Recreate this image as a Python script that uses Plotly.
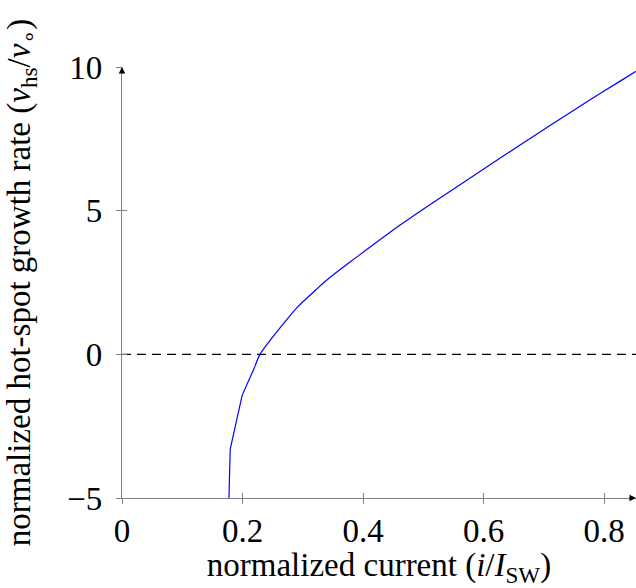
import plotly.graph_objects as go

# data
# steep, coarsely sampled start of the curve
current_low = [0.1775, 0.1796, 0.1995, 0.2206]
rate_low = [-5.0, -3.3, -1.42, -0.42]
# smooth upper part of the curve
current_high = [0.2206, 0.229, 0.25, 0.268, 0.29, 0.323, 0.3454, 0.379,
                0.4007, 0.4615, 0.5196, 0.627, 0.66, 0.716, 0.771, 0.826, 0.853]
rate_high = [-0.42, 0.0, 0.6, 1.07, 1.62, 2.27, 2.68, 3.22,
             3.56, 4.5, 5.33, 6.82, 7.28, 8.04, 8.78, 9.5, 9.85]
x_ticks = [0, 0.2, 0.4, 0.6, 0.8]
x_tick_labels = ["0", "0.2", "0.4", "0.6", "0.8"]
y_ticks = [-5, 0, 5, 10]
y_tick_labels = ["\u22125", "0", "5", "10"]
x_range = [0, 0.853]
y_range = [-5, 10]
zero_line = [0, 0]

FONT = "Liberation Serif"
AX = "#808080"
FS = 33

fig = go.Figure()
fig.add_trace(go.Scatter(x=x_range, y=zero_line, mode="lines",
                         line=dict(color="black", width=1.2, dash="9px,6px"),
                         hoverinfo="skip", showlegend=False))
fig.add_trace(go.Scatter(x=current_low, y=rate_low, mode="lines",
                         line=dict(color="#0000ff", width=1.2),
                         showlegend=False))
fig.add_trace(go.Scatter(x=current_high, y=rate_high, mode="lines",
                         line=dict(color="#0000ff", width=1.2, shape="spline", smoothing=0.8),
                         showlegend=False))

axis_common = dict(showgrid=False, zeroline=False, showline=True, linecolor=AX,
                   linewidth=1.3, ticks="inside", ticklen=5, tickcolor=AX, tickwidth=1,
                   tickfont=dict(family=FONT, size=FS, color="black"))

fig.update_layout(
    width=636, height=588,
    margin=dict(l=122, r=0, t=67, b=90),
    paper_bgcolor="white", plot_bgcolor="white",
    font=dict(family=FONT, size=FS, color="black"),
    xaxis=dict(range=x_range, tickvals=x_ticks, ticktext=x_tick_labels,
               ticklabelstandoff=3,
               title=dict(text="normalized current (<i>i</i>/<i>I</i><sub>SW</sub>)",
                          font=dict(family=FONT, size=FS), standoff=5),
               **axis_common),
    yaxis=dict(range=y_range, tickvals=y_ticks, ticktext=y_tick_labels,
               ticklabelstandoff=12,
               title=dict(text="normalized hot-spot growth rate (<i>v</i><sub>hs</sub>/<i>v</i><sub>\u2218</sub>)",
                          font=dict(family=FONT, size=FS), standoff=26),
               **axis_common),
    xaxis2=dict(range=x_range, overlaying="x", tickvals=x_ticks, showticklabels=False,
                ticks="outside", ticklen=5, tickcolor=AX, showgrid=False, zeroline=False,
                showline=False, side="bottom"),
    yaxis2=dict(range=y_range, overlaying="y", tickvals=y_ticks, showticklabels=False,
                ticks="outside", ticklen=5, tickcolor=AX, showgrid=False, zeroline=False,
                showline=False, side="left"),
)
# invisible trace to activate the secondary axes
fig.add_trace(go.Scatter(x=[x_range[0]], y=[y_range[0]], xaxis="x2", yaxis="y2",
                         mode="markers", marker=dict(opacity=0), hoverinfo="skip",
                         showlegend=False))

# arrow heads at axis ends
fig.add_annotation(x=x_range[1], y=y_range[0], ax=-8, ay=0, xref="x", yref="y",
                   showarrow=True, arrowhead=2, arrowsize=1, arrowwidth=1.3,
                   arrowcolor="black", text="")
fig.add_annotation(x=x_range[0], y=y_range[1], ax=0, ay=8, xref="x", yref="y",
                   showarrow=True, arrowhead=2, arrowsize=1, arrowwidth=1.3,
                   arrowcolor="black", text="")

fig.write_html("out.html")
